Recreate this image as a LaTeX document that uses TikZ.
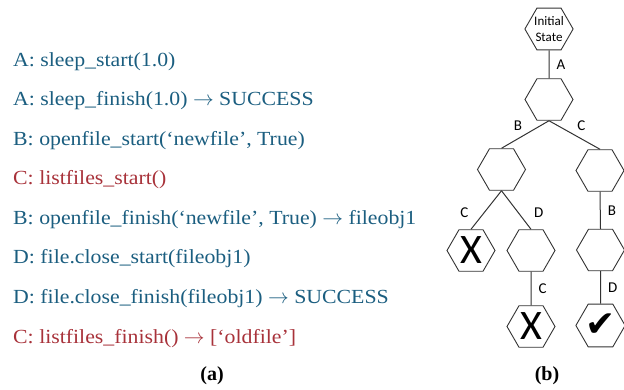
\documentclass[tikz,border=0pt]{standalone}
\usepackage{fontspec}
\setmainfont{Liberation Serif}
\newfontfamily\callfont[FakeStretch=1.09,Ligatures=TeX]{Liberation Serif}
\newfontfamily\treefont{Carlito}
\newfontfamily\symfont{DejaVu Sans}
\usetikzlibrary{shapes.geometric,positioning}
\definecolor{callblue}{HTML}{1B5E80}
\definecolor{callred}{HTML}{A8323A}
\definecolor{edgegray}{HTML}{333333}
\tikzset{
  call/.style={anchor=base west,inner sep=0pt,font=\callfont\fontsize{20}{24}\selectfont},
  hexa/.style={regular polygon,regular polygon sides=6,draw=edgegray,
    line width=0.9pt,minimum size=48pt,inner sep=0pt},
  edge/.style={draw=edgegray,line width=1pt},
  elabel/.style={font=\treefont\fontsize{15}{15}\selectfont,inner sep=1pt},
  subcap/.style={font=\bfseries\fontsize{20}{24}\selectfont}
}

\begin{document}
\begin{tikzpicture}[x=1pt,y=-1pt]
  \useasboundingbox (0,0) rectangle (624,390);
  % (a) event trace
  \node[call,text=callblue] (l1) at (13,66.5) {A: sleep\_start(1.0)};
  \node[call,text=callblue] (l2) at (13,106) {A: sleep\_finish(1.0) $\rightarrow$ SUCCESS};
  \node[call,text=callblue] (l3) at (13,145.5) {B: openfile\_start(‘newfile’, True)};
  \node[call,text=callred]  (l4) at (13,185) {C: listfiles\_start()};
  \node[call,text=callblue] (l5) at (13,224.5) {B: openfile\_finish(‘newfile’, True) $\rightarrow$ fileobj1};
  \node[call,text=callblue] (l6) at (13,264) {D: file.close\_start(fileobj1)};
  \node[call,text=callblue] (l7) at (13,303.5) {D: file.close\_finish(fileobj1) $\rightarrow$ SUCCESS};
  \node[call,text=callred]  (l8) at (13,343) {C: listfiles\_finish() $\rightarrow$ [‘oldfile’]};
  \node[subcap] (capa) at (212,376) {(a)};

  % (b) state tree
  \node[hexa,align=center,font=\treefont\fontsize{13}{15.5}\selectfont] (init) at (549,29) {Initial\\State};
  \node[hexa] (s1) at (549,99.5) {};
  \node[hexa] (s2) at (501.5,169.5) {};
  \node[hexa] (s3) at (600,170.5) {};
  \node[hexa,font=\treefont\fontsize{42}{42}\selectfont] (bad1) at (471,250.5) {X};
  \node[hexa] (s4) at (531,250.5) {};
  \node[hexa] (s5) at (600.5,250) {};
  \node[hexa,font=\treefont\fontsize{42}{42}\selectfont] (bad2) at (531,326.5) {X};
  \node[hexa,font=\symfont\fontsize{36}{36}\selectfont] (good) at (600.5,325.5) {✔};

  % edges
  \draw[edge] (init.south) -- node[elabel,right=6pt] {A} (s1.north);
  \draw[edge] (s1.south) -- node[elabel,pos=.45,above left=1pt and 4pt] {B} (s2.north);
  \draw[edge] (s1.south) -- node[elabel,pos=.45,above right=1pt and 4pt] {C} (s3.north);
  \draw[edge] (s2.south) -- node[elabel,pos=.58,left=14pt] {C} (bad1.north);
  \draw[edge] (s2.south) -- node[elabel,pos=.58,right=14pt] {D} (s4.north);
  \draw[edge] (s3.south) -- node[elabel,right=6pt] {B} (s5.north);
  \draw[edge] (s4.south) -- node[elabel,right=6pt] {C} (bad2.north);
  \draw[edge] (s5.south) -- node[elabel,right=6pt] {D} (good.north);
  \node[subcap] (capb) at (547,376) {(b)};
\end{tikzpicture}
\end{document}
